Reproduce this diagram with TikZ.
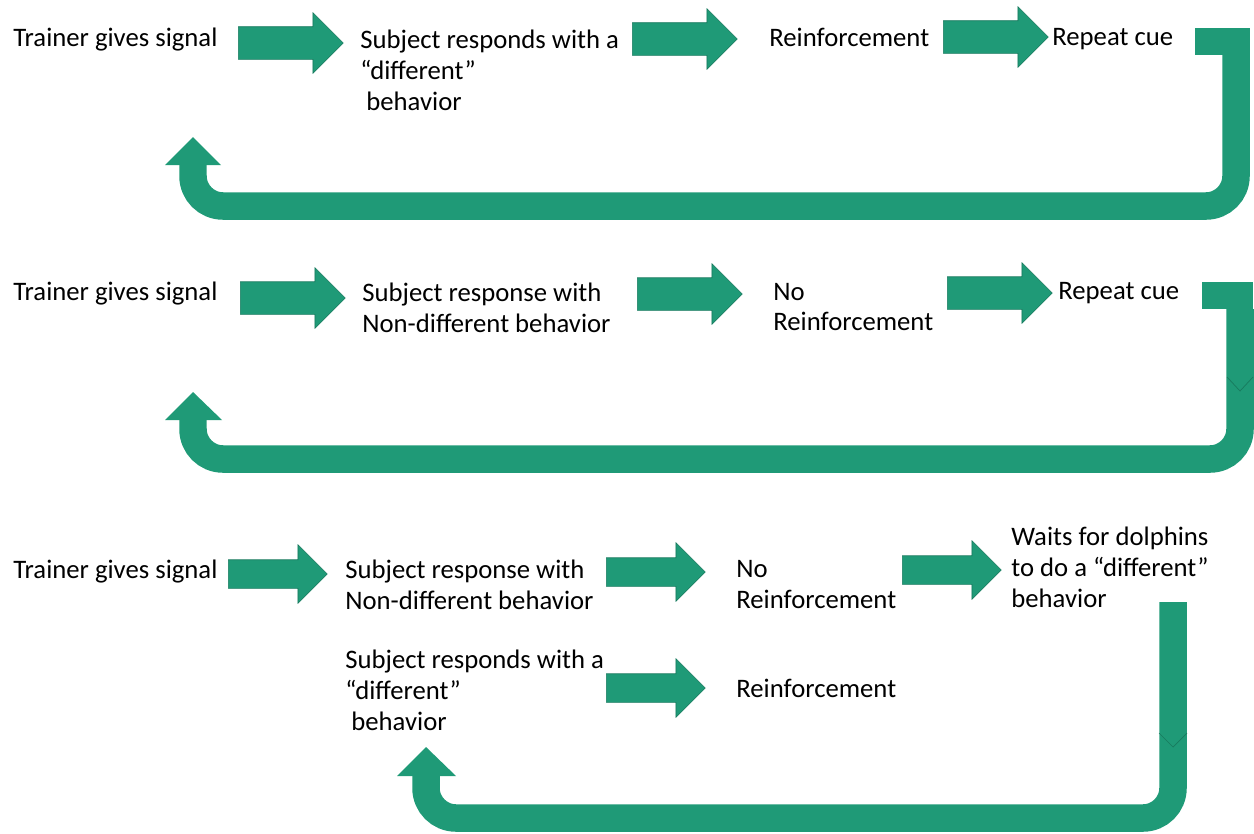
\documentclass[tikz,border=0pt]{standalone}
\usepackage{fontspec}
\setmainfont{Carlito}
\usetikzlibrary{shapes.arrows}
\definecolor{arrowgreen}{RGB}{31,154,119}
\definecolor{arrowedge}{RGB}{24,122,94}

\begin{document}
\begin{tikzpicture}[x=0.02cm, y=-0.02cm,
        lbl/.style={anchor=west, inner sep=0pt, align=left, font=\fontsize{15.2}{17.6}\selectfont},
        barrow/.style={single arrow, fill=arrowgreen, draw=arrowedge, line width=0.3pt, anchor=tail,
            inner sep=0pt, inner ysep=3.2mm, minimum width=12mm, single arrow head extend=2.8mm,
            minimum height=21mm},
        barrowsm/.style={barrow, inner ysep=2.8mm, minimum width=11.6mm, single arrow head extend=3mm,
            minimum height=19.8mm},
        uturn/.style={draw=arrowgreen, line width=5.5mm, rounded corners=6mm},
        seam/.style={draw=arrowedge, line width=0.4pt}]
        \useasboundingbox[fill=white] (0,0) rectangle (1254,833);

        % first row: different behaviour gets reinforced
        \node [lbl] (sig1) at (13,40) {Trainer gives signal};
        \node [barrow] (a11) at (238,43) {};
        \node [lbl] (resp1) at (360,70) {Subject responds with a\\“different”\\\ behavior};
        \node [barrow] (a12) at (632,39) {};
        \node [lbl] (reinf1) at (769,37) {Reinforcement};
        \node [barrow] (a13) at (943,37) {};
        \node [lbl] (rep1) at (1052,39) {Repeat cue};
        \fill [arrowgreen] (1195,28) rectangle (1250,55);
        \draw [uturn] (1236,55) -- (1236,206) -- (193,206) -- (193,165);
        \fill [arrowgreen] (165,165) -- (193,137) -- (221,165) -- cycle;

        % second row: same behaviour, no reinforcement
        \node [lbl] (sig2) at (13,294) {Trainer gives signal};
        \node [barrow] (a21) at (240,298) {};
        \node [lbl] (resp2) at (362,307.5) {Subject response with\\Non-different behavior};
        \node [barrow] (a22) at (637,294) {};
        \node [lbl] (noreinf2) at (773,307) {No\\Reinforcement};
        \node [barrow] (a23) at (947,293) {};
        \node [lbl] (rep2) at (1058,293) {Repeat cue};
        \fill [arrowgreen] (1202,282) rectangle (1253,309);
        \draw [uturn] (1240,309) -- (1240,459) -- (193,459) -- (193,420);
        \fill [arrowgreen] (165,420) -- (193,392) -- (222,420) -- cycle;
        \draw [seam] (1227,377) -- (1240,391) -- (1253,377);

        % third row: wait for a different behaviour
        \node [lbl] (sig3) at (13,572) {Trainer gives signal};
        \node [barrowsm] (a31) at (228,574) {};
        \node [lbl] (resp3) at (345,584.5) {Subject response with\\Non-different behavior};
        \node [barrowsm] (a32) at (606,572) {};
        \node [lbl] (noreinf3) at (736,584.5) {No\\Reinforcement};
        \node [barrowsm] (a33) at (902,570) {};
        \node [lbl] (wait3) at (1011,567) {Waits for dolphins\\to do a “different”\\behavior};
        \node [lbl] (diff3) at (345,690) {Subject responds with a\\“different”\\\ behavior};
        \node [barrowsm] (a34) at (606,688) {};
        \node [lbl] (reinf3) at (736,688) {Reinforcement};
        \draw [uturn] (1173,602) -- (1173,818) -- (426,818) -- (426,776);
        \fill [arrowgreen] (397,776) -- (426,747) -- (456,776) -- cycle;
        \draw [seam] (1159,733) -- (1173,747) -- (1187,733);
    \end{tikzpicture}
\end{document}
